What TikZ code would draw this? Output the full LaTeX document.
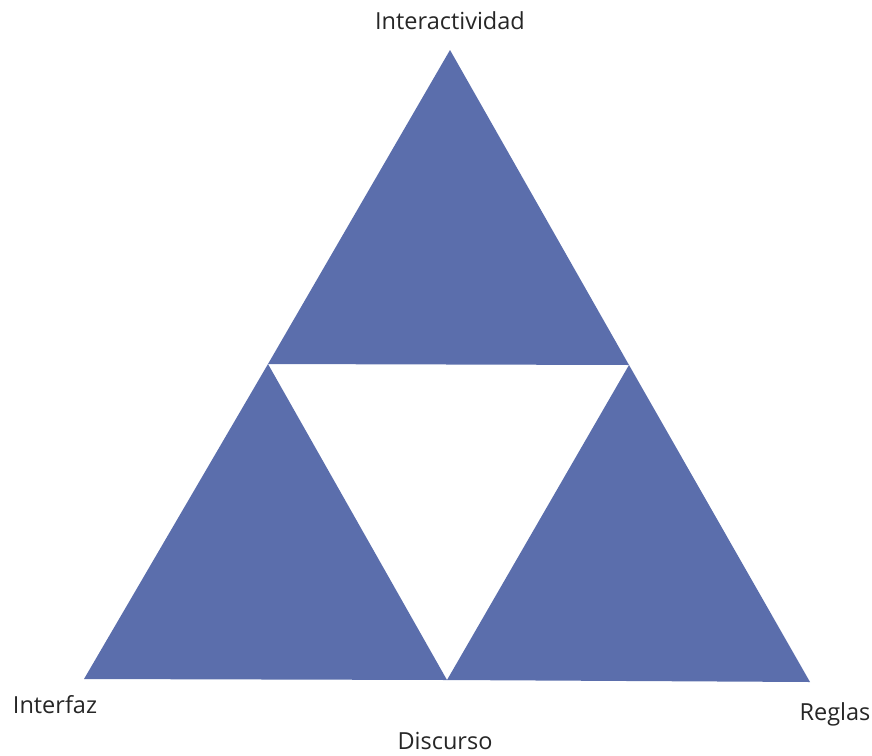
\documentclass[tikz,border=0pt]{standalone}
\usepackage{xcolor}
\usepackage{fontspec}
\setmainfont{Open Sans}
\usepackage{tikz}

\definecolor{triblue}{RGB}{91,110,172}

\begin{document}
\begin{tikzpicture}[x=1pt, y=-1pt, every node/.style={font=\fontsize{23.5}{28}\selectfont, text=black!85, anchor=base, inner sep=0pt}]
		\useasboundingbox (0,0) rectangle (872,755);

		% corners of the big triangle and the middle points
		\coordinate (top) at (450,50);
		\coordinate (midl) at (268,364);
		\coordinate (midr) at (629,365);
		\coordinate (botl) at (84,679);
		\coordinate (botm) at (447,680);
		\coordinate (botr) at (810,682);

		\foreach \a/\b/\c in {top/midl/midr, midl/botl/botm, midr/botm/botr} {
			\fill [triblue] (\a) -- (\b) -- (\c) -- cycle;
		}

		\node (interactividad) at (450,29) {Interactividad};
		\node (interfaz) at (55,713) {Interfaz};
		\node (reglas) at (835,720) {Reglas};
		\node (discurso) at (445,749) {Discurso};
	\end{tikzpicture}
\end{document}
